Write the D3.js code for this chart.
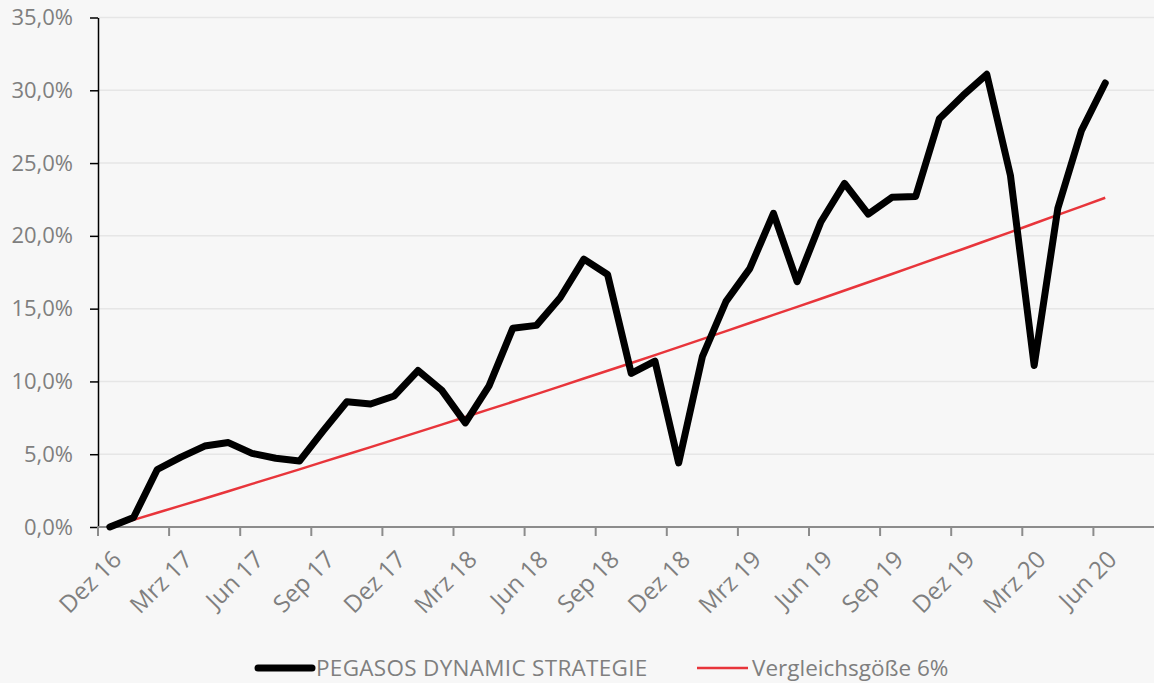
<!DOCTYPE html>
<html>
<head>
<meta charset="utf-8">
<script src="https://cdn.jsdelivr.net/npm/d3@7"></script>
<style>
  body { margin: 0; background: #f7f7f7; }
  text { font-family: "Open Sans", sans-serif; fill: #7f7f7f; }
</style>
</head>
<body>
<div id="chart"></div>
<script>
// Configurable Variables
const width = 1154;
const height = 683;
const bg = "#f7f7f7";

// Data (monthly, cumulative performance in %)
const months = [
  "Dez 16",
  "Jan 17", "Feb 17", "Mrz 17", "Apr 17", "Mai 17", "Jun 17", "Jul 17", "Aug 17", "Sep 17", "Okt 17", "Nov 17", "Dez 17",
  "Jan 18", "Feb 18", "Mrz 18", "Apr 18", "Mai 18", "Jun 18", "Jul 18", "Aug 18", "Sep 18", "Okt 18", "Nov 18", "Dez 18",
  "Jan 19", "Feb 19", "Mrz 19", "Apr 19", "Mai 19", "Jun 19", "Jul 19", "Aug 19", "Sep 19", "Okt 19", "Nov 19", "Dez 19",
  "Jan 20", "Feb 20", "Mrz 20", "Apr 20", "Mai 20", "Jun 20"
];
const strategy = [
  0, 0.65, 3.95, 4.8, 5.56, 5.8, 5.06, 4.72, 4.53, 6.6, 8.6, 8.45, 9.0,
  10.75, 9.4, 7.15, 9.7, 13.65, 13.85, 15.75, 18.4, 17.35, 10.55, 11.4, 4.4,
  11.7, 15.5, 17.75, 21.55, 16.85, 20.95, 23.6, 21.5, 22.65, 22.7, 28.05, 29.65,
  31.1, 24.15, 11.1, 21.9, 27.25, 30.5
];
const benchmark = [
  0, 0.49, 0.98, 1.47, 1.96, 2.46, 2.96, 3.46, 3.96, 4.47, 4.98, 5.49, 6.00,
  6.52, 7.03, 7.56, 8.08, 8.60, 9.13, 9.66, 10.20, 10.73, 11.27, 11.81, 12.36,
  12.91, 13.46, 14.01, 14.57, 15.12, 15.68, 16.25, 16.81, 17.38, 17.96, 18.53, 19.10,
  19.68, 20.26, 20.85, 21.44, 22.03, 22.62
];
const yTicks = [0, 5, 10, 15, 20, 25, 30, 35];
const xTickLabels = ["Dez 16", "Mrz 17", "Jun 17", "Sep 17", "Dez 17", "Mrz 18", "Jun 18", "Sep 18",
  "Dez 18", "Mrz 19", "Jun 19", "Sep 19", "Dez 19", "Mrz 20", "Jun 20"];
const seriesNames = ["PEGASOS DYNAMIC STRATEGIE", "Vergleichsgöße 6%"];

const svg = d3.select("#chart").append("svg")
    .attr("width", width)
    .attr("height", height);

svg.append("rect").attr("width", width).attr("height", height).attr("fill", bg);

// Scales
const plotLeft = 98, plotRight = 1154;
const x = d3.scaleBand()
    .domain(months)
    .range([plotLeft, plotLeft + 23.7 * months.length])
    .padding(0);

const y = d3.scaleLinear()
    .domain([0, 35])
    .range([527, 17.5]);

const fmt = v => d3.format(".1f")(v).replace(".", ",") + "%";

// Gridlines
svg.append("g")
    .selectAll("line")
    .data(yTicks.filter(d => d > 0))
    .enter().append("line")
    .attr("x1", plotLeft).attr("x2", plotRight)
    .attr("y1", d => y(d)).attr("y2", d => y(d))
    .attr("stroke", "#e6e6e6")
    .attr("stroke-width", 1.5);

// Y axis
const yAxis = svg.append("g").attr("transform", `translate(${plotLeft},0)`)
    .call(d3.axisLeft(y).tickValues(yTicks).tickFormat(fmt).tickSize(8).tickSizeOuter(0));
yAxis.select(".domain").attr("stroke", "#000").attr("stroke-width", 1.5);
yAxis.selectAll(".tick line").attr("stroke", "#000").attr("stroke-width", 1.5);
yAxis.selectAll(".tick text")
    .attr("x", -25)
    .style("font-size", "22px")
    .style("font-family", "'Open Sans', sans-serif")
    .attr("fill", "#7f7f7f");

// X axis (category axis, ticks every quarter)
const xAxis = svg.append("g");
xAxis.append("line")
    .attr("x1", plotLeft).attr("x2", plotRight)
    .attr("y1", y(0)).attr("y2", y(0))
    .attr("stroke", "#8c8c8c")
    .attr("stroke-width", 2);

xAxis.selectAll(".xtick")
    .data(xTickLabels)
    .enter().append("line")
    .attr("class", "xtick")
    .attr("x1", d => x(d)).attr("x2", d => x(d))
    .attr("y1", y(0)).attr("y2", y(0) + 9)
    .attr("stroke", "#8c8c8c")
    .attr("stroke-width", 2);

xAxis.selectAll(".xlabel")
    .data(xTickLabels)
    .enter().append("text")
    .attr("class", "xlabel")
    .attr("transform", d => `translate(${x(d) + x.bandwidth() / 2 + 1},${y(0) + 22}) rotate(-45)`)
    .attr("text-anchor", "end")
    .attr("dy", "0.71em")
    .style("font-size", "24px")
    .text(d => d);

// Lines
const line = d3.line()
    .x((d, i) => x(months[i]) + x.bandwidth() / 2)
    .y(d => y(d));

svg.append("path")
    .datum(benchmark)
    .attr("d", line)
    .attr("fill", "none")
    .attr("stroke", "#e8353b")
    .attr("stroke-width", 2.5);

svg.append("path")
    .datum(strategy)
    .attr("d", line)
    .attr("fill", "none")
    .attr("stroke", "#000")
    .attr("stroke-width", 7)
    .attr("stroke-linejoin", "round")
    .attr("stroke-linecap", "round");

// Legend
const legendY = 668;
const legend = svg.append("g");
legend.append("line")
    .attr("x1", 258).attr("x2", 312)
    .attr("y1", legendY).attr("y2", legendY)
    .attr("stroke", "#000").attr("stroke-width", 7).attr("stroke-linecap", "round");
legend.append("text")
    .attr("x", 316).attr("y", legendY).attr("dy", "0.35em")
    .style("font-size", "22.5px")
    .style("letter-spacing", "0.3px")
    .text(seriesNames[0]);
legend.append("line")
    .attr("x1", 697).attr("x2", 748)
    .attr("y1", legendY).attr("y2", legendY)
    .attr("stroke", "#e8353b").attr("stroke-width", 2.5);
legend.append("text")
    .attr("x", 752).attr("y", legendY).attr("dy", "0.35em")
    .style("font-size", "22.5px")
    .text(seriesNames[1]);
</script>
</body>
</html>
